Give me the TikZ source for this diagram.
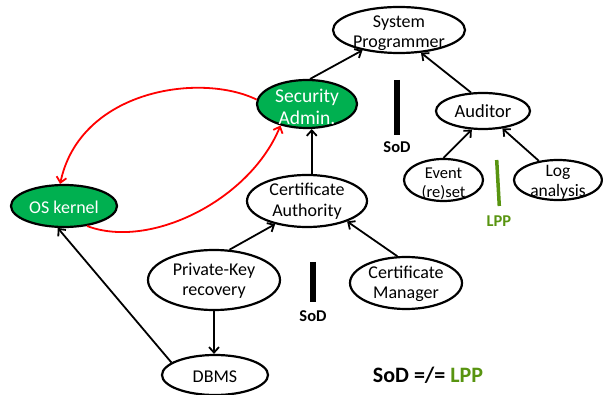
\documentclass[tikz,border=0pt]{standalone}
\usepackage{fontspec}
\setmainfont{Carlito}
\usetikzlibrary{arrows.meta,shapes.geometric}
\definecolor{roleGreen}{RGB}{0,176,80}
\definecolor{lppGreen}{RGB}{88,148,16}
\begin{document}
\begin{tikzpicture}[x=1pt,y=-1pt,
  role/.style={draw=black, line width=2.2pt, ellipse, inner sep=0pt},
  hot/.style={role, fill=roleGreen},
  txt/.style={align=center, inner sep=0pt, font=\fontsize{18}{20.5}\selectfont},
  conn/.style={line width=1.8pt, -{Straight Barb[length=5.5pt,width=10pt]}},
  redconn/.style={conn, draw=red},
  tag/.style={inner sep=0pt, font=\fontsize{16.5}{16.5}\selectfont\bfseries},
]
\useasboundingbox (0,0) rectangle (603,395);

% role ellipses
\node[role, minimum width=132pt, minimum height=46pt] (sp)   at (399,30)    {};
\node[hot,  minimum width=100pt, minimum height=48pt] (sa)   at (307,104)   {};
\node[role, minimum width=94pt,  minimum height=36pt] (aud)  at (483,111)   {};
\node[role, minimum width=79pt,  minimum height=42pt] (ev)   at (443.5,180) {};
\node[role, minimum width=88pt,  minimum height=40pt] (log)  at (558,180)   {};
\node[role, minimum width=120pt, minimum height=52pt] (ca)   at (307,201)   {};
\node[hot,  minimum width=106pt, minimum height=42pt] (os)   at (64,206)    {};
\node[role, minimum width=132pt, minimum height=60pt] (pkr)  at (214,280)   {};
\node[role, minimum width=112pt, minimum height=52pt] (cm)   at (406,283)   {};
\node[role, minimum width=106pt, minimum height=40pt] (dbms) at (215,375)   {};

% role names
\node[txt] (spT)   at (399,33)    {System\\Programmer};
\node[txt, text=white, font=\fontsize{19.5}{22}\selectfont] (saT) at (307,107) {Security\\Admin.};
\node[txt, font=\fontsize{18.5}{20}\selectfont] (audT) at (483,111) {Auditor};
\node[txt, font=\fontsize{16.5}{19}\selectfont] (evT) at (443.5,184) {Event\\(re)set};
\node[txt, font=\fontsize{17.5}{20}\selectfont] (logT) at (558,182) {Log\\analysis};
\node[txt] (caT)   at (307,201)   {Certificate\\Authority};
\node[txt, text=white] (osT) at (64,207) {OS kernel};
\node[txt] (pkrT)  at (214,281)   {Private-Key\\recovery};
\node[txt] (cmT)   at (406,284)   {Certificate\\Manager};
\node[txt] (dbmsT) at (215,377)   {DBMS};

% hierarchy
\draw[conn] (sa.83)   -- (sp.209);
\draw[conn] (aud.123) -- (sp.314);
\draw[conn] (ev.90)   -- (aud.239);
\draw[conn] (log.135) -- (aud.318);
\draw[conn] (ca.80)   -- (ca.80 |- sa.-80);
\draw[conn] (pkr.63)  -- (ca.216);
\draw[conn] (cm.108)  -- (ca.333);
\draw[conn] (pkr.south) -- (pkr.south |- dbms.north);
\draw[conn] (dbms.164) -- (os.254);

% kernel <-> security admin
\draw[redconn] (sa.175) .. controls (200,72) and (80,90) .. (os.100);
\draw[redconn] (os.319) .. controls (150,250) and (250,200) .. (sa.219);

% separation markers
\draw[line width=6pt] (397,80) -- (397,135);
\node[tag] (sod1) at (397,147) {SoD};
\draw[line width=6pt] (313,262) -- (313,302);
\node[tag] (sod2) at (313,316) {SoD};
\draw[line width=3.5pt, draw=lppGreen] (496.7,160) -- (499.3,206);
\node[tag, text=lppGreen] (lpp) at (499,221) {LPP};

\node[inner sep=0pt, font=\fontsize{22}{22}\selectfont\bfseries] (rule) at (428,375)
  {SoD =/= \textcolor{lppGreen}{LPP}};
\end{tikzpicture}
\end{document}
